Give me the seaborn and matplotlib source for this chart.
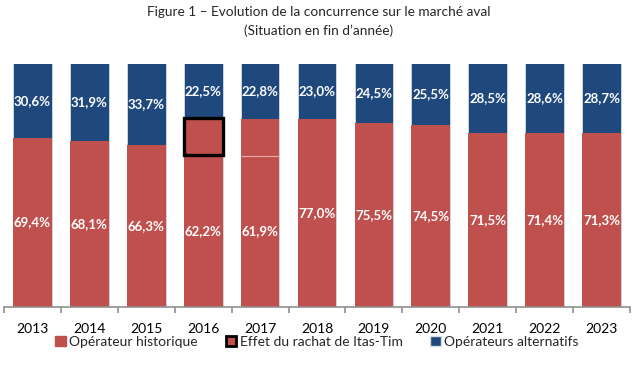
import matplotlib
matplotlib.use("Agg")
import matplotlib.pyplot as plt
from matplotlib.patches import Patch
from matplotlib.ticker import FixedLocator
import numpy as np
import pandas as pd
import seaborn as sns

# Data (% at year end)
years = ["2013", "2014", "2015", "2016", "2017", "2018", "2019", "2020", "2021", "2022", "2023"]
historique = [69.4, 68.1, 66.3, 62.2, 61.9, 77.0, 75.5, 74.5, 71.5, 71.4, 71.3]
effet_itas = [0.0, 0.0, 0.0, 15.3, 15.3, 0.0, 0.0, 0.0, 0.0, 0.0, 0.0]
alternatifs = [30.6, 31.9, 33.7, 22.5, 22.8, 23.0, 24.5, 25.5, 28.5, 28.6, 28.7]

RED = "#C0504D"
BLUE = "#1F497D"
FONT = ["Lato", "DejaVu Sans"]

df = pd.DataFrame({
    "annee": years,
    "historique": historique,
    "effet": effet_itas,
    "alternatifs": alternatifs,
})
df["rouge"] = df["historique"] + df["effet"]
df["total"] = df["rouge"] + df["alternatifs"]

sns.set_theme(style="white")
plt.rcParams["font.family"] = FONT

fig = plt.figure(figsize=(6.37, 3.65), dpi=100)
ax = fig.add_axes([4 / 637, 1 - 306.5 / 365, 626 / 637, 243 / 365])

width = 0.68
# blue bar = full stack, red = historic + effect drawn on top of it
sns.barplot(data=df, x="annee", y="total", color=BLUE, width=width,
            saturation=1, edgecolor="#D6DCE5", linewidth=0.6, ax=ax)
n_blue = len(ax.patches)
sns.barplot(data=df, x="annee", y="rouge", color=RED, width=width,
            saturation=1, linewidth=0, ax=ax)
n_red = len(ax.patches)
# effect of the Itas-Tim buyout, sitting on the historic share
sns.barplot(data=df, x="annee", y="effet", color=RED, width=width,
            saturation=1, linewidth=0, ax=ax)
effect_patches = ax.patches[n_red:]
for p, base, eff, yr in zip(effect_patches, df["historique"], df["effet"], years):
    p.set_y(base)
    if eff == 0:
        p.set_visible(False)
    elif yr == "2016":
        p.set_edgecolor("black")
        p.set_linewidth(2.4)
        p.set_zorder(5)
    else:
        # thin pale line between historic share and the effect
        x0 = p.get_x()
        ax.plot([x0, x0 + p.get_width()], [base, base], color="#E8A9A7",
                lw=0.8, zorder=4, solid_capstyle="butt")

# grey cap on top of the bars
for p in ax.patches[:n_blue]:
    x0 = p.get_x()
    ax.plot([x0, x0 + p.get_width()], [p.get_height(), p.get_height()],
            color="#A3ABBA", lw=1.2, zorder=4, solid_capstyle="butt")

# value labels
for i, row in df.iterrows():
    ax.text(i, row["historique"] / 2, f"{row['historique']:.1f}%".replace(".", ","),
            ha="center", va="center", color="white", fontsize=9.5,
            fontweight="bold", zorder=6)
    y_alt = row["rouge"] + row["alternatifs"] / 2
    ax.text(i, y_alt, f"{row['alternatifs']:.1f}%".replace(".", ","),
            ha="center", va="center", color="white", fontsize=9.5,
            fontweight="bold", zorder=6)

ax.set_xlim(-0.5, len(years) - 0.5)
ax.set_ylim(0, 100)
ax.set_xlabel("")
ax.set_ylabel("")
ax.set_yticks([])
for s in ["left", "top", "right"]:
    ax.spines[s].set_visible(False)
ax.spines["bottom"].set_color("#909090")
ax.spines["bottom"].set_linewidth(1.2)
ax.xaxis.set_minor_locator(FixedLocator(np.arange(-0.5, len(years), 1.0)))
ax.tick_params(axis="x", which="major", length=0, pad=12, labelsize=10,
               labelcolor="black")
ax.tick_params(axis="x", which="minor", bottom=True, length=4,
               width=1.2, color="#909090")

# legend
handles = [
    Patch(facecolor=RED, edgecolor=RED, label="Opérateur historique"),
    Patch(facecolor=RED, edgecolor="black", linewidth=2, label="Effet du rachat de Itas-Tim"),
    Patch(facecolor=BLUE, edgecolor="#D6DCE5", label="Opérateurs alternatifs"),
]
ax.legend(handles=handles, loc="center", bbox_to_anchor=(0.5, -0.145),
          ncol=3, frameon=False, fontsize=10, handlelength=0.75,
          handleheight=0.75, handletextpad=0.25, columnspacing=2.0,
          borderaxespad=0)

fig.text(0.5, 1 - 12 / 365, "Figure 1 – Evolution de la concurrence sur le marché aval",
         ha="center", va="center", fontsize=9.8)
fig.text(0.5, 1 - 31 / 365, "(Situation en fin d’année)",
         ha="center", va="center", fontsize=9.8)

fig.savefig("out.png", dpi=100)
